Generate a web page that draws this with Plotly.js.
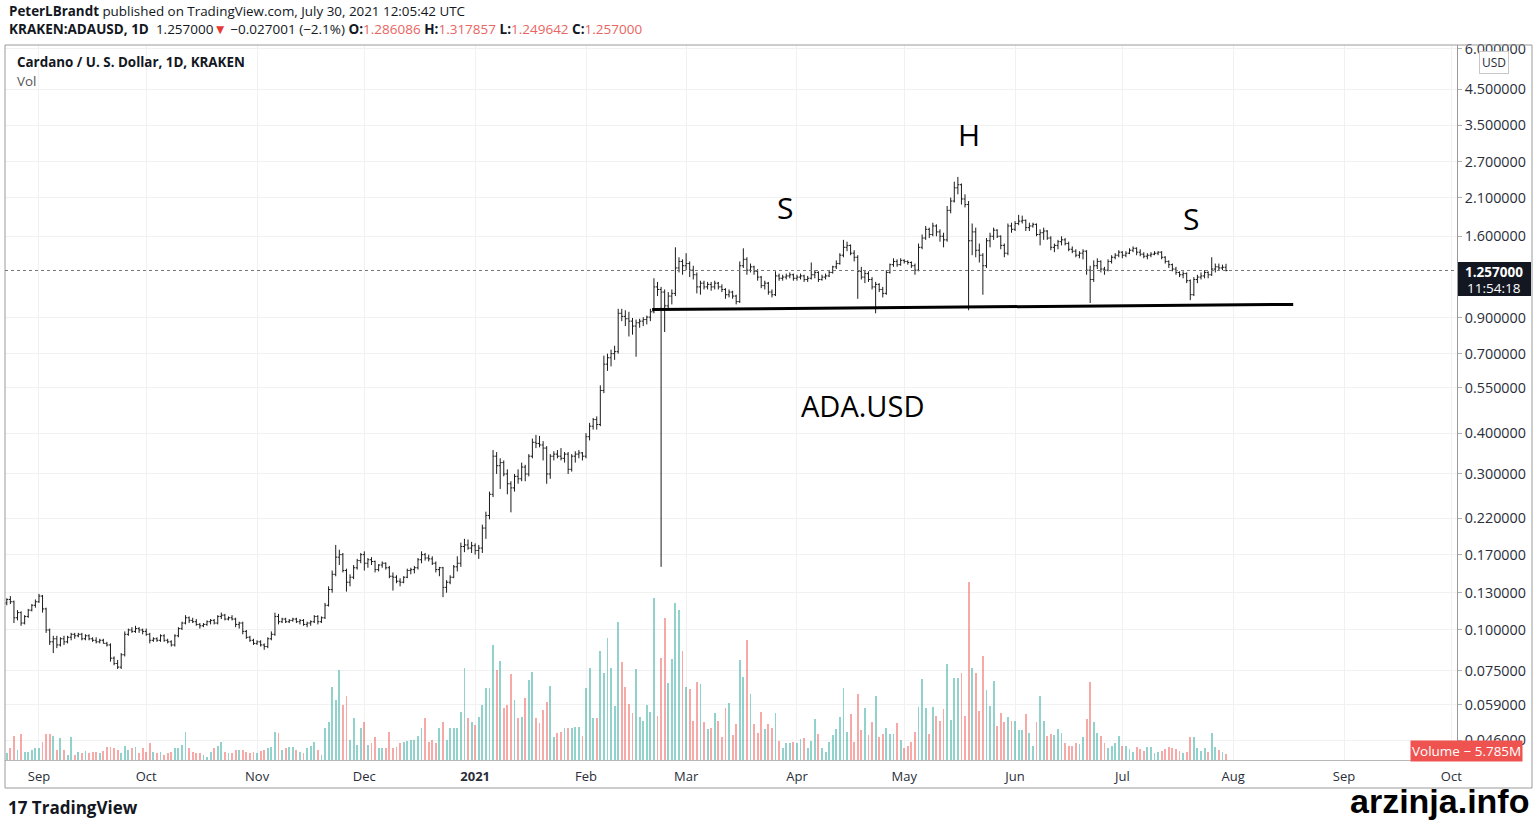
<!DOCTYPE html>
<html><head><meta charset="utf-8">
<script src="https://cdn.plot.ly/plotly-3.0.1.min.js"></script>
<style>html,body{margin:0;padding:0;background:#fff;}#chart{width:1536px;height:821px;}</style>
</head><body><div id="chart"></div>
<script>
// Daily rows: [open, high, low, close, volume (M)] — KRAKEN:ADAUSD, 1D, first day 2020-08-23
const aug2020 = [[0.121,0.125,0.119,0.124,7],[0.124,0.127,0.120,0.122,12],[0.122,0.123,0.105,0.109,24],[0.109,0.115,0.107,0.113,10],[0.113,0.114,0.103,0.105,26],[0.105,0.111,0.104,0.110,8],[0.110,0.116,0.109,0.115,8],[0.115,0.120,0.114,0.119,10],[0.119,0.124,0.117,0.122,12]];
const sep2020 = [[0.122,0.129,0.121,0.127,12],[0.127,0.128,0.113,0.116,18],[0.116,0.117,0.098,0.100,26],[0.100,0.101,0.090,0.092,26],[0.092,0.096,0.085,0.094,24],[0.094,0.096,0.088,0.090,10],[0.090,0.095,0.089,0.094,22],[0.094,0.096,0.090,0.092,10],[0.092,0.096,0.091,0.095,5],[0.095,0.098,0.093,0.097,23],[0.097,0.098,0.094,0.096,5],[0.096,0.098,0.095,0.097,8],[0.097,0.098,0.093,0.094,7],[0.094,0.097,0.093,0.096,9],[0.096,0.097,0.093,0.094,7],[0.094,0.095,0.092,0.093,8],[0.093,0.095,0.091,0.092,8],[0.092,0.094,0.091,0.093,7],[0.093,0.094,0.091,0.091,9],[0.091,0.092,0.089,0.090,13],[0.090,0.091,0.080,0.082,13],[0.082,0.083,0.078,0.079,12],[0.079,0.081,0.076,0.077,10],[0.077,0.085,0.076,0.084,7],[0.084,0.099,0.083,0.097,14],[0.097,0.101,0.096,0.100,10],[0.100,0.102,0.098,0.099,12],[0.099,0.103,0.098,0.101,13],[0.101,0.102,0.098,0.100,7],[0.100,0.101,0.097,0.099,12]];
const oct2020 = [[0.099,0.101,0.096,0.097,8],[0.097,0.098,0.091,0.093,17],[0.093,0.095,0.092,0.094,8],[0.094,0.095,0.092,0.093,7],[0.093,0.097,0.092,0.096,8],[0.096,0.097,0.092,0.093,5],[0.093,0.094,0.091,0.092,7],[0.092,0.093,0.089,0.090,8],[0.090,0.097,0.089,0.096,12],[0.096,0.102,0.095,0.101,12],[0.101,0.106,0.100,0.105,15],[0.105,0.111,0.104,0.109,28],[0.109,0.110,0.105,0.107,12],[0.107,0.109,0.105,0.106,8],[0.106,0.108,0.103,0.104,7],[0.104,0.105,0.101,0.103,7],[0.103,0.105,0.102,0.104,5],[0.104,0.107,0.103,0.106,3],[0.106,0.108,0.104,0.107,8],[0.107,0.108,0.104,0.105,12],[0.105,0.111,0.104,0.110,14],[0.110,0.113,0.108,0.111,18],[0.111,0.112,0.107,0.108,8],[0.108,0.110,0.107,0.109,7],[0.109,0.111,0.107,0.108,7],[0.108,0.109,0.102,0.104,10],[0.104,0.106,0.101,0.105,10],[0.105,0.106,0.097,0.099,10],[0.099,0.100,0.094,0.095,8],[0.095,0.096,0.092,0.093,7],[0.093,0.094,0.090,0.091,8]];
const nov2020 = [[0.091,0.093,0.090,0.092,7],[0.092,0.093,0.089,0.090,9],[0.090,0.091,0.087,0.089,10],[0.089,0.095,0.088,0.094,12],[0.094,0.099,0.093,0.097,13],[0.097,0.113,0.096,0.110,28],[0.110,0.112,0.104,0.106,27],[0.106,0.109,0.105,0.108,10],[0.108,0.109,0.105,0.106,12],[0.106,0.108,0.105,0.107,13],[0.107,0.109,0.106,0.108,13],[0.108,0.109,0.105,0.106,10],[0.106,0.108,0.104,0.107,8],[0.107,0.108,0.103,0.104,7],[0.104,0.106,0.102,0.105,12],[0.105,0.107,0.103,0.106,14],[0.106,0.111,0.105,0.110,18],[0.110,0.111,0.104,0.106,10],[0.106,0.110,0.105,0.109,5],[0.109,0.121,0.108,0.119,32],[0.119,0.136,0.118,0.133,38],[0.133,0.152,0.130,0.148,73],[0.148,0.182,0.146,0.167,60],[0.167,0.176,0.158,0.170,90],[0.170,0.172,0.150,0.152,55],[0.152,0.154,0.131,0.140,64],[0.140,0.148,0.136,0.145,20],[0.145,0.158,0.143,0.155,42],[0.155,0.165,0.153,0.163,15],[0.163,0.172,0.160,0.170,32]];
const dec2020 = [[0.170,0.174,0.152,0.160,38],[0.160,0.166,0.155,0.164,15],[0.164,0.167,0.158,0.162,17],[0.162,0.163,0.150,0.153,23],[0.153,0.159,0.151,0.158,12],[0.158,0.162,0.155,0.160,12],[0.160,0.161,0.153,0.155,12],[0.155,0.157,0.144,0.146,28],[0.146,0.150,0.132,0.145,12],[0.145,0.147,0.139,0.141,13],[0.141,0.144,0.136,0.140,17],[0.140,0.146,0.139,0.145,18],[0.145,0.154,0.144,0.152,19],[0.152,0.155,0.148,0.153,20],[0.153,0.157,0.149,0.155,20],[0.155,0.166,0.153,0.164,24],[0.164,0.174,0.160,0.170,32],[0.170,0.172,0.163,0.166,42],[0.166,0.170,0.162,0.165,18],[0.165,0.168,0.158,0.160,20],[0.160,0.162,0.150,0.153,17],[0.153,0.156,0.146,0.155,32],[0.155,0.156,0.126,0.135,38],[0.135,0.142,0.130,0.140,20],[0.140,0.147,0.138,0.145,32],[0.145,0.158,0.144,0.156,32],[0.156,0.168,0.151,0.160,32],[0.160,0.185,0.156,0.180,48],[0.180,0.190,0.173,0.182,92],[0.182,0.189,0.176,0.178,42],[0.178,0.186,0.172,0.181,38]];
const jan2021 = [[0.181,0.184,0.170,0.175,35],[0.175,0.182,0.165,0.178,43],[0.178,0.210,0.172,0.205,55],[0.205,0.230,0.190,0.224,72],[0.224,0.265,0.218,0.260,72],[0.260,0.355,0.255,0.340,115],[0.340,0.350,0.300,0.318,90],[0.318,0.335,0.270,0.325,99],[0.325,0.330,0.295,0.300,52],[0.300,0.310,0.260,0.280,55],[0.280,0.285,0.229,0.272,86],[0.272,0.300,0.265,0.295,60],[0.295,0.310,0.280,0.290,42],[0.290,0.325,0.285,0.315,43],[0.315,0.320,0.285,0.300,62],[0.300,0.345,0.295,0.340,80],[0.340,0.385,0.335,0.375,88],[0.375,0.395,0.360,0.372,42],[0.372,0.392,0.362,0.368,37],[0.368,0.378,0.330,0.360,50],[0.360,0.365,0.280,0.300,58],[0.300,0.345,0.290,0.340,74],[0.340,0.352,0.330,0.345,23],[0.345,0.355,0.335,0.340,27],[0.340,0.360,0.330,0.335,28],[0.335,0.350,0.325,0.345,32],[0.345,0.350,0.300,0.310,32],[0.310,0.345,0.305,0.340,32],[0.340,0.352,0.325,0.345,33],[0.345,0.355,0.335,0.348,33],[0.348,0.350,0.330,0.340,24]];
const feb2021 = [[0.340,0.400,0.335,0.390,72],[0.390,0.430,0.380,0.420,92],[0.420,0.445,0.410,0.440,42],[0.440,0.450,0.410,0.425,42],[0.425,0.560,0.420,0.540,109],[0.540,0.690,0.530,0.650,87],[0.650,0.700,0.620,0.680,122],[0.680,0.720,0.640,0.700,92],[0.700,0.740,0.670,0.710,54],[0.710,0.960,0.700,0.930,138],[0.930,0.960,0.880,0.910,98],[0.910,0.950,0.850,0.895,73],[0.895,0.940,0.790,0.880,56],[0.880,0.900,0.800,0.850,47],[0.850,0.890,0.685,0.870,91],[0.870,0.895,0.840,0.880,43],[0.880,0.905,0.850,0.890,39],[0.890,0.915,0.860,0.905,55],[0.905,0.960,0.880,0.940,48],[0.940,1.190,0.930,1.120,162],[1.120,1.160,1.050,1.100,44],[1.100,1.120,0.156,1.080,102],[1.080,1.100,0.815,0.980,142],[0.980,1.080,0.950,1.050,77],[1.050,1.100,0.990,1.070,101],[1.070,1.480,1.050,1.280,157],[1.280,1.380,1.240,1.340,150],[1.340,1.360,1.220,1.300,109]];
const mar2021 = [[1.300,1.420,1.260,1.320,73],[1.320,1.340,1.200,1.260,71],[1.260,1.300,1.180,1.220,39],[1.220,1.240,1.070,1.120,78],[1.120,1.170,1.060,1.150,76],[1.150,1.170,1.100,1.120,38],[1.120,1.160,1.100,1.140,31],[1.140,1.160,1.090,1.120,32],[1.120,1.170,1.100,1.150,47],[1.150,1.160,1.100,1.120,39],[1.120,1.140,1.080,1.100,23],[1.100,1.110,1.030,1.060,52],[1.060,1.100,1.040,1.080,57],[1.080,1.090,1.030,1.050,25],[1.050,1.060,0.990,1.010,36],[1.010,1.340,1.000,1.300,100],[1.300,1.470,1.280,1.360,83],[1.360,1.380,1.220,1.260,120],[1.260,1.320,1.240,1.290,66],[1.290,1.300,1.220,1.250,36],[1.250,1.270,1.170,1.200,27],[1.200,1.210,1.110,1.130,48],[1.130,1.170,1.100,1.150,31],[1.150,1.160,1.060,1.080,36],[1.080,1.100,1.040,1.060,32],[1.060,1.250,1.050,1.210,47],[1.210,1.230,1.170,1.190,19],[1.190,1.220,1.170,1.200,12],[1.200,1.230,1.180,1.210,17],[1.210,1.240,1.190,1.220,17],[1.220,1.230,1.170,1.190,18]];
const apr2021 = [[1.190,1.220,1.170,1.200,17],[1.200,1.230,1.180,1.210,21],[1.210,1.220,1.160,1.180,22],[1.180,1.210,1.160,1.190,12],[1.190,1.330,1.180,1.220,19],[1.220,1.260,1.190,1.240,41],[1.240,1.250,1.160,1.180,26],[1.180,1.220,1.170,1.200,12],[1.200,1.230,1.180,1.210,8],[1.210,1.260,1.200,1.240,18],[1.240,1.300,1.230,1.290,25],[1.290,1.350,1.270,1.320,31],[1.320,1.420,1.310,1.400,43],[1.400,1.560,1.380,1.480,72],[1.480,1.540,1.440,1.500,28],[1.500,1.510,1.400,1.420,46],[1.420,1.450,1.340,1.380,18],[1.380,1.400,1.030,1.250,66],[1.250,1.290,1.180,1.200,30],[1.200,1.260,1.150,1.230,52],[1.230,1.250,1.160,1.180,25],[1.180,1.200,1.100,1.120,38],[1.120,1.160,0.930,1.140,64],[1.140,1.150,1.080,1.100,23],[1.100,1.120,1.040,1.070,26],[1.070,1.260,1.060,1.240,32],[1.240,1.320,1.230,1.310,26],[1.310,1.370,1.290,1.340,26],[1.340,1.360,1.290,1.310,37],[1.310,1.370,1.300,1.350,20]];
const may2021 = [[1.350,1.360,1.320,1.340,12],[1.340,1.350,1.310,1.330,14],[1.330,1.340,1.280,1.300,18],[1.300,1.320,1.220,1.260,28],[1.260,1.520,1.250,1.480,53],[1.480,1.620,1.460,1.580,81],[1.580,1.720,1.560,1.680,52],[1.680,1.700,1.580,1.620,26],[1.620,1.760,1.600,1.720,53],[1.720,1.740,1.600,1.650,44],[1.650,1.680,1.540,1.600,39],[1.600,1.640,1.480,1.560,51],[1.560,1.980,1.540,1.920,96],[1.920,2.100,1.880,2.050,40],[2.050,2.350,2.030,2.250,82],[2.250,2.430,2.150,2.300,82],[2.300,2.320,2.000,2.080,87],[2.080,2.150,1.960,2.000,44],[2.000,2.050,0.950,1.550,178],[1.550,1.750,1.400,1.650,92],[1.650,1.700,1.380,1.450,87],[1.450,1.520,1.330,1.400,49],[1.400,1.420,1.060,1.300,104],[1.300,1.580,1.280,1.550,70],[1.550,1.640,1.480,1.600,54],[1.600,1.700,1.560,1.670,79],[1.670,1.680,1.580,1.600,34],[1.600,1.610,1.460,1.500,47],[1.500,1.520,1.380,1.420,38],[1.420,1.750,1.400,1.720,43],[1.720,1.760,1.640,1.680,39]];
const jun2021 = [[1.680,1.780,1.660,1.750,39],[1.750,1.860,1.730,1.780,30],[1.780,1.850,1.750,1.790,30],[1.790,1.800,1.660,1.700,46],[1.700,1.760,1.660,1.720,27],[1.720,1.760,1.700,1.740,14],[1.740,1.750,1.600,1.620,38],[1.620,1.680,1.500,1.640,64],[1.640,1.700,1.560,1.660,39],[1.660,1.670,1.560,1.580,24],[1.580,1.600,1.450,1.480,26],[1.480,1.520,1.430,1.500,25],[1.500,1.560,1.460,1.540,31],[1.540,1.600,1.500,1.560,27],[1.560,1.580,1.500,1.520,17],[1.520,1.540,1.440,1.460,14],[1.460,1.490,1.420,1.440,14],[1.440,1.460,1.380,1.400,17],[1.400,1.440,1.370,1.420,16],[1.420,1.460,1.360,1.440,23],[1.440,1.450,1.220,1.260,41],[1.260,1.300,1.000,1.180,78],[1.180,1.350,1.160,1.300,38],[1.300,1.370,1.270,1.340,27],[1.340,1.350,1.240,1.270,24],[1.270,1.290,1.220,1.260,17],[1.260,1.360,1.250,1.340,12],[1.340,1.400,1.320,1.380,14],[1.380,1.420,1.360,1.400,17],[1.400,1.450,1.380,1.430,24]];
const jul2021 = [[1.430,1.440,1.370,1.400,14],[1.400,1.440,1.380,1.420,14],[1.420,1.470,1.410,1.450,11],[1.450,1.490,1.430,1.470,8],[1.470,1.480,1.400,1.430,13],[1.430,1.460,1.390,1.410,11],[1.410,1.430,1.370,1.390,9],[1.390,1.420,1.360,1.400,13],[1.400,1.430,1.380,1.410,13],[1.410,1.440,1.400,1.420,7],[1.420,1.440,1.400,1.430,8],[1.430,1.440,1.360,1.380,9],[1.380,1.390,1.320,1.340,11],[1.340,1.350,1.280,1.310,13],[1.310,1.320,1.250,1.270,12],[1.270,1.290,1.220,1.240,11],[1.240,1.250,1.200,1.220,9],[1.220,1.250,1.190,1.230,7],[1.230,1.240,1.150,1.170,8],[1.170,1.180,1.020,1.060,23],[1.060,1.200,1.050,1.180,23],[1.180,1.220,1.150,1.200,12],[1.200,1.240,1.180,1.210,9],[1.210,1.260,1.190,1.240,12],[1.240,1.250,1.190,1.220,8],[1.220,1.380,1.210,1.270,27],[1.270,1.320,1.240,1.290,13],[1.290,1.320,1.260,1.280,10],[1.280,1.310,1.260,1.286,8],[1.286086,1.317857,1.249642,1.257,5.785]];

const priceTicks = [6,4.5,3.5,2.7,2.1,1.6,0.9,0.7,0.55,0.4,0.3,0.22,0.17,0.13,0.1,0.075,0.059,0.046];
const monthTicks = ['2020-09-01','2020-10-01','2020-11-01','2020-12-01','2021-01-01','2021-02-01','2021-03-01','2021-04-01','2021-05-01','2021-06-01','2021-07-01','2021-08-01','2021-09-01','2021-10-01'];
const monthLabels = ['Sep','Oct','Nov','Dec','<b>2021</b>','Feb','Mar','Apr','May','Jun','Jul','Aug','Sep','Oct'];
const lastPrice = 1.257;
const necklineDates = ['2021-02-19 12:00','2021-08-17 19:00'];
const necklinePrices = [0.955, 0.990];

const rows = [].concat(aug2020, sep2020, oct2020, nov2020, dec2020, jan2021, feb2021, mar2021, apr2021, may2021, jun2021, jul2021);
const startMs = Date.UTC(2020, 7, 23);
function dayStr(d){ return new Date(startMs + d*86400000).toISOString().replace('T',' ').replace('Z','').slice(0,19); }
const dates = rows.map((r,i)=>dayStr(i).slice(0,10));

const PL=5, PR=1457, PT=45, PB=760;
const px = x => (x-PL)/(PR-PL);
const py = y => (PB-y)/(PB-PT);
const FONT = 'Open Sans, Liberation Sans, sans-serif';

const up = 'rgba(38,166,154,0.5)', dn = 'rgba(239,83,80,0.5)';

const ohlc = {
  type:'ohlc', x:dates,
  open:rows.map(r=>r[0]), high:rows.map(r=>r[1]), low:rows.map(r=>r[2]), close:rows.map(r=>r[3]),
  increasing:{line:{color:'#1b1b1b', width:1}}, decreasing:{line:{color:'#1b1b1b', width:1}},
  tickwidth:0.42, hoverinfo:'skip', xaxis:'x', yaxis:'y'
};
const vol = {
  type:'bar', x:dates, y:rows.map(r=>r[4]), yaxis:'y2', xaxis:'x',
  marker:{color:rows.map(r=>r[3]>=r[0]?up:dn), line:{width:0}},
  width:rows.map(()=>86400000*0.52), hoverinfo:'skip'
};

const red = '#e86563';
const header2 = "<b>KRAKEN:ADAUSD, 1D</b>  1.257000<span style='color:#e53935'>▼</span> −0.027001 (−2.1%) <b>O:</b><span style='color:"+red+"'>1.286086</span> <b>H:</b><span style='color:"+red+"'>1.317857</span> <b>L:</b><span style='color:"+red+"'>1.249642</span> <b>C:</b><span style='color:"+red+"'>1.257000</span>";

const layout = {
  width:1536, height:821,
  margin:{l:PL, r:1536-PR, t:PT, b:821-PB},
  paper_bgcolor:'#fff', plot_bgcolor:'#fff',
  showlegend:false, hovermode:false, dragmode:false, bargap:0,
  font:{family:FONT, color:'#131722', size:12},
  xaxis:{type:'date', range:[dayStr(-0.5), dayStr(405.6)], tickmode:'array', tickvals:monthTicks, ticktext:monthLabels,
    tickfont:{size:13, color:'#2a2e39', family:FONT}, ticklabelstandoff:4, showgrid:true, gridcolor:'#f1f1f1', gridwidth:1,
    showline:true, linecolor:'#b8b8b8', linewidth:1, ticks:'', zeroline:false, rangeslider:{visible:false}, fixedrange:true},
  yaxis:{type:'log', range:[-1.3976, 0.789], side:'right', tickmode:'array', tickvals:priceTicks,
    ticktext:priceTicks.map(v=>v.toFixed(6)), tickfont:{size:14.3, color:'#2a2e39', family:FONT},
    showgrid:true, gridcolor:'#f1f1f1', gridwidth:1, ticks:'outside', ticklen:4, tickcolor:'#b0b0b0',
    showline:true, linecolor:'#9a9a9a', linewidth:1, zeroline:false, fixedrange:true},
  yaxis2:{overlaying:'y', range:[0, PB-PT], visible:false, fixedrange:true},
  shapes:[
    {type:'rect', xref:'paper', yref:'paper', x0:0, x1:px(1532), y0:py(788), y1:1, line:{color:'#9a9a9a', width:1}, fillcolor:'rgba(0,0,0,0)', layer:'above'},
    {type:'line', xref:'paper', yref:'y', x0:0, x1:1, y0:lastPrice, y1:lastPrice, line:{color:'#777', width:1, dash:'dot'}},
    {type:'line', xref:'x', yref:'y', x0:necklineDates[0], x1:necklineDates[1], y0:necklinePrices[0], y1:necklinePrices[1], line:{color:'#000', width:3}},
    {type:'rect', xref:'paper', yref:'paper', x0:px(1458), x1:px(1531), y0:py(296), y1:py(262), fillcolor:'#131722', line:{width:0}}
  ],
  annotations:[
    {xref:'paper', yref:'paper', x:px(7), y:py(11), xanchor:'left', yanchor:'middle', showarrow:false,
      text:"<b>PeterLBrandt</b> published on TradingView.com, July 30, 2021 12:05:42 UTC", font:{size:13.4, color:'#131722'}},
    {xref:'paper', yref:'paper', x:px(7), y:py(29), xanchor:'left', yanchor:'middle', showarrow:false,
      text:header2, font:{size:13.5, color:'#131722'}},
    {xref:'paper', yref:'paper', x:px(15), y:py(62), xanchor:'left', yanchor:'middle', showarrow:false,
      text:"<b>Cardano / U. S. Dollar, 1D, KRAKEN</b>", font:{size:13.4, color:'#131722'}},
    {xref:'paper', yref:'paper', x:px(15), y:py(81), xanchor:'left', yanchor:'middle', showarrow:false,
      text:"Vol", font:{size:13.4, color:'#555'}},
    {xref:'paper', yref:'paper', x:px(785), y:py(207), xanchor:'center', yanchor:'middle', showarrow:false, text:'S', font:{size:30, color:'#000'}},
    {xref:'paper', yref:'paper', x:px(969), y:py(135), xanchor:'center', yanchor:'middle', showarrow:false, text:'H', font:{size:30, color:'#000'}},
    {xref:'paper', yref:'paper', x:px(1191), y:py(219), xanchor:'center', yanchor:'middle', showarrow:false, text:'S', font:{size:30, color:'#000'}},
    {xref:'paper', yref:'paper', x:px(862), y:py(405), xanchor:'center', yanchor:'middle', showarrow:false, text:'ADA.USD', font:{size:29, color:'#000'}},
    {xref:'paper', yref:'paper', x:px(1494), y:py(62), xanchor:'center', yanchor:'middle', showarrow:false, text:'USD',
      font:{size:12, color:'#2a2e39'}, bgcolor:'#fff', bordercolor:'#c8c8c8', borderwidth:1, borderpad:2},
    {xref:'paper', yref:'paper', x:px(1494), y:py(272), xanchor:'center', yanchor:'middle', showarrow:false, text:'<b>1.257000</b>', font:{size:13.5, color:'#fff'}},
    {xref:'paper', yref:'paper', x:px(1494), y:py(288), xanchor:'center', yanchor:'middle', showarrow:false, text:'11:54:18', font:{size:13.5, color:'#fff'}},
    {xref:'paper', yref:'paper', x:px(1466), y:py(751), xanchor:'center', yanchor:'middle', showarrow:false, text:'Volume − 5.785M',
      font:{size:13.5, color:'#fff'}, bgcolor:'#ef5350', borderpad:1},
    {xref:'paper', yref:'paper', x:px(6), y:py(808), xanchor:'left', yanchor:'middle', showarrow:false,
      text:'<b>17 TradingView</b>', font:{size:17, color:'#131722'}},
    {xref:'paper', yref:'paper', x:px(1531), y:py(801), xanchor:'right', yanchor:'middle', showarrow:false,
      text:'<b>arzinja.info</b>', font:{size:34, color:'#000', family:'Liberation Sans, Arial, sans-serif'}}
  ]
};

Plotly.newPlot('chart', [vol, ohlc], layout, {displayModeBar:false, staticPlot:true});
</script>
</body></html>
